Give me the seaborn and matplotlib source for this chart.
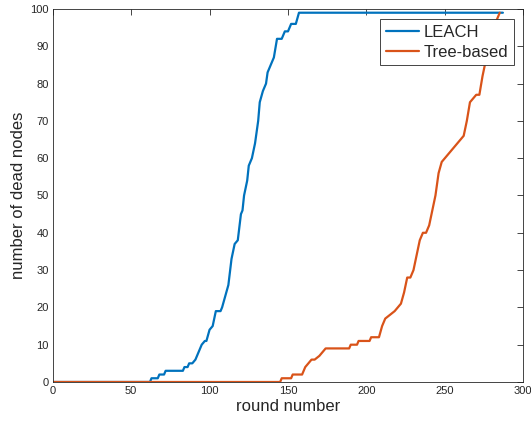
import matplotlib
matplotlib.use('Agg')
import matplotlib.pyplot as plt
import pandas as pd
import seaborn as sns

# data (round, dead nodes)
leach_round = [0, 62, 63, 67, 68, 71, 72, 83, 84, 86, 87, 89, 91, 93, 95, 97, 98, 100, 102,
               104, 107, 108, 110, 112, 114, 116, 118, 120, 121, 122, 124, 125, 127, 129,
               131, 132, 134, 136, 137, 139, 141, 143, 146, 148, 150, 152, 155, 157, 287]
leach_dead = [0, 0, 1, 1, 2, 2, 3, 3, 4, 4, 5, 5, 6, 8, 10, 11, 11, 14, 15,
              19, 19, 20, 23, 26, 33, 37, 38, 45, 46, 50, 54, 58, 60, 64,
              70, 75, 78, 80, 83, 85, 87, 92, 92, 94, 94, 96, 96, 99, 99]

tree_round = [0, 145, 146, 152, 153, 159, 161, 163, 165, 167, 170, 172, 174, 189, 190,
              194, 195, 202, 203, 208, 210, 212, 215, 218, 220, 222, 224, 226, 228, 230,
              232, 234, 236, 238, 240, 242, 244, 246, 248, 250, 252, 254, 256, 258, 260,
              262, 264, 266, 268, 270, 272, 274, 276, 279, 282, 285]
tree_dead = [0, 0, 1, 1, 2, 2, 4, 5, 6, 6, 7, 8, 9, 9, 10,
             10, 11, 11, 12, 12, 15, 17, 18, 19, 20, 21, 24, 28, 28, 30,
             34, 38, 40, 40, 42, 46, 50, 56, 59, 60, 61, 62, 63, 64, 65,
             66, 70, 75, 76, 77, 77, 82, 86, 91, 96, 99]

sns.set_style('white')
plt.rcParams['font.family'] = ['Liberation Sans', 'DejaVu Sans']

df = pd.concat([
    pd.DataFrame({'round': leach_round, 'dead': leach_dead, 'protocol': 'LEACH'}),
    pd.DataFrame({'round': tree_round, 'dead': tree_dead, 'protocol': 'Tree-based'}),
])

fig = plt.figure(figsize=(5.31, 4.28), dpi=100)
ax = fig.add_axes([0.0992, 0.1075, 0.8863, 0.8715])

sns.lineplot(data=df, x='round', y='dead', hue='protocol', estimator=None, sort=False,
             palette=['#0072BD', '#D95319'], linewidth=1.6, ax=ax)

ax.set_xlim(0, 300)
ax.set_ylim(0, 100)
ax.set_xticks(range(0, 301, 50))
ax.set_yticks(range(0, 101, 10))
ax.tick_params(direction='in', top=True, right=True, length=4, width=0.6,
               labelsize=8, colors='#262626', pad=3)
for s in ax.spines.values():
    s.set_color('#262626')
    s.set_linewidth(0.6)
ax.set_xlabel('round number', fontsize=12, color='#262626', labelpad=2)
ax.set_ylabel('number of dead nodes', fontsize=12, color='#262626', labelpad=3)

leg = ax.legend(loc='upper right', fontsize=12, frameon=True, fancybox=False,
                borderaxespad=0, handlelength=2.0, borderpad=0.35, labelspacing=0.28,
                handletextpad=0.25, bbox_to_anchor=(0.980, 0.973))
leg.get_frame().set_edgecolor('#262626')
leg.get_frame().set_linewidth(0.6)
leg.get_frame().set_alpha(1)

fig.savefig('out.png', dpi=100)
